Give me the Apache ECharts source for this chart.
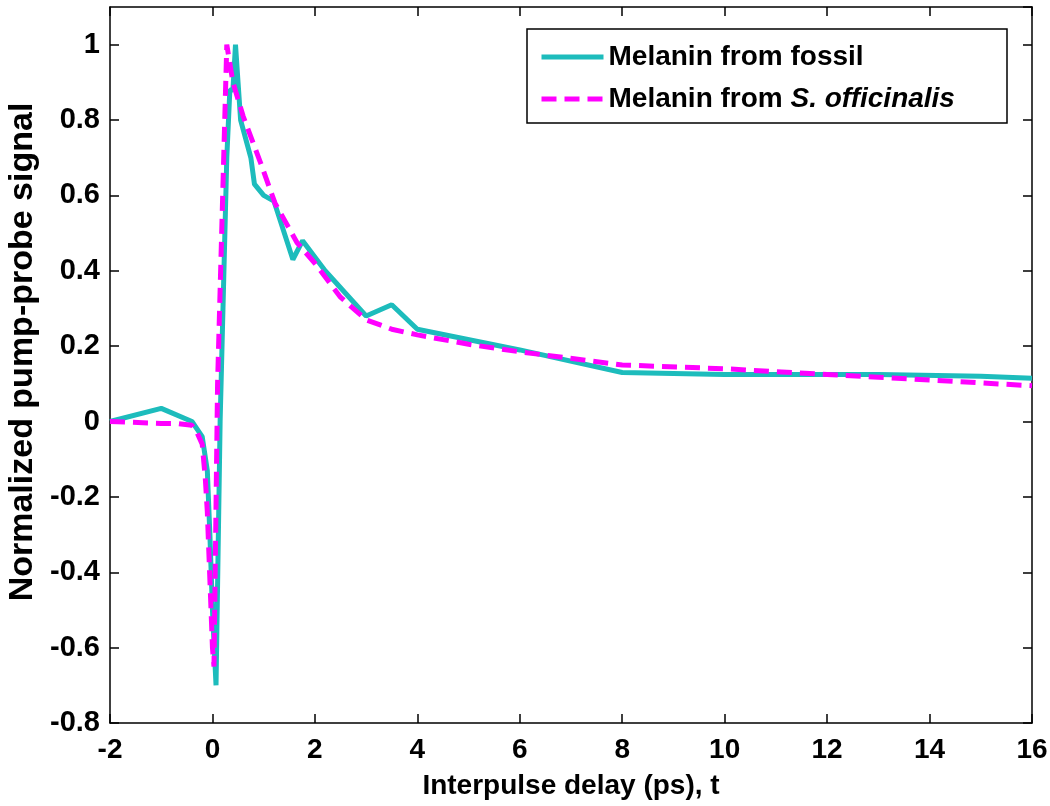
<!DOCTYPE html>
<html>
<head>
<meta charset="utf-8">
<script src="https://cdn.jsdelivr.net/npm/echarts@6/dist/echarts.min.js"></script>
<style>html,body{margin:0;padding:0;background:#fff}#c{width:1050px;height:806px}</style>
</head>
<body>
<div id="c"></div>
<script>
var fossilX = [-2, -1, -0.4, -0.2, -0.1, -0.05, 0, 0.07, 0.15, 0.28, 0.34, 0.4, 0.45, 0.5, 0.55, 0.75, 0.82, 1.0, 1.2, 1.57, 1.76, 2.2, 3.0, 3.5, 4.0, 6.0, 8.0, 10, 13, 15, 16];
var fossilY = [0, 0.035, 0, -0.04, -0.13, -0.3, -0.5, -0.70, 0.0, 0.7, 0.88, 0.88, 1.0, 0.9, 0.8, 0.7, 0.63, 0.6, 0.585, 0.43, 0.48, 0.4, 0.28, 0.31, 0.245, 0.19, 0.13, 0.125, 0.125, 0.12, 0.115];
var sepiaX = [-2, -1, -0.7, -0.4, -0.3, -0.2, -0.14, -0.1, -0.05, 0.0, 0.03, 0.1, 0.2, 0.28, 0.4, 0.6, 0.93, 1.22, 1.65, 2.0, 2.5, 3.0, 3.5, 4.0, 5.0, 6.0, 8.0, 10, 12, 14, 16];
var sepiaY = [0, -0.005, -0.005, -0.01, -0.03, -0.06, -0.15, -0.24, -0.42, -0.6, -0.65, 0.1, 0.6, 1.0, 0.9, 0.81, 0.69, 0.58, 0.475, 0.42, 0.33, 0.27, 0.245, 0.23, 0.205, 0.185, 0.15, 0.14, 0.125, 0.11, 0.095];
var seriesNames = ['Melanin from fossil', 'Melanin from S. officinalis'];

function pairs(xs, ys) { return xs.map(function (x, i) { return [x, ys[i]]; }); }

var FONT = 'Liberation Sans, Arial, sans-serif';
var chart = echarts.init(document.getElementById('c'));
var axisLineStyle = { color: '#000', width: 1.5 };
function frameAxis(extra) {
  return Object.assign({
    type: 'value',
    axisLine: { show: true, onZero: false, lineStyle: axisLineStyle },
    axisTick: { show: true, inside: true, length: 9, lineStyle: axisLineStyle },
    splitLine: { show: false }
  }, extra);
}
chart.setOption({
  animation: false,
  backgroundColor: '#fff',
  grid: { left: 110, right: 18, top: 7, bottom: 83, containLabel: false, outerBoundsMode: 'none' },
  graphic: [{
    type: 'rect', z: 1,
    shape: { x: 527, y: 29, width: 480, height: 94 },
    style: { fill: '#fff', stroke: '#000', lineWidth: 1.5 }
  }],
  legend: {
    orient: 'vertical', left: 534, top: 38, z: 5,
    itemWidth: 62, itemHeight: 14, itemGap: 14,
    data: seriesNames,
    itemStyle: { opacity: 0, borderWidth: 0 },
    lineStyle: { width: 5 },
    textStyle: { fontFamily: FONT, fontWeight: 'bold', fontSize: 28, color: '#000',
      rich: {
        n: { fontFamily: FONT, fontWeight: 'bold', fontSize: 28, color: '#000' },
        i: { fontFamily: FONT, fontWeight: 'bold', fontStyle: 'italic', fontSize: 28, color: '#000' }
      } },
    formatter: function (name) {
      if (name === seriesNames[1]) return '{n|Melanin from }{i|S. officinalis}';
      return '{n|' + name + '}';
    }
  },
  xAxis: [frameAxis({
    min: -2, max: 16, interval: 2, position: 'bottom',
    name: 'Interpulse delay (ps), t', nameLocation: 'middle', nameGap: 49,
    nameTextStyle: { fontFamily: FONT, fontWeight: 'bold', fontSize: 28, color: '#000' },
    axisLabel: { margin: 13, fontFamily: FONT, fontWeight: 'bold', fontSize: 28, color: '#000' }
  }), frameAxis({
    min: -2, max: 16, interval: 2, position: 'top',
    axisLabel: { show: false }
  })],
  yAxis: [frameAxis({
    min: -0.8, max: 1.1, interval: 0.2, position: 'left',
    name: 'Normalized pump-probe signal', nameLocation: 'middle', nameGap: 68,
    nameTextStyle: { fontFamily: FONT, fontWeight: 'bold', fontSize: 34, color: '#000', padding: [0, 0, 0, 26] },
    axisLabel: { margin: 10, showMaxLabel: false, fontFamily: FONT, fontWeight: 'bold', fontSize: 29, color: '#000',
      formatter: function (v) { return String(Math.round(v * 10) / 10); } }
  }), frameAxis({
    min: -0.8, max: 1.1, interval: 0.2, position: 'right',
    axisLabel: { show: false }
  })],
  series: [{
    name: seriesNames[0], type: 'line', symbol: 'none', z: 3,
    data: pairs(fossilX, fossilY),
    lineStyle: { color: '#1dbcbc', width: 5 },
    itemStyle: { color: '#1dbcbc' }
  }, {
    name: seriesNames[1], type: 'line', symbol: 'none', z: 4,
    data: pairs(sepiaX, sepiaY),
    lineStyle: { color: '#ff00ff', width: 5, type: [15, 8] },
    itemStyle: { color: '#ff00ff' }
  }]
});
</script>
</body>
</html>
